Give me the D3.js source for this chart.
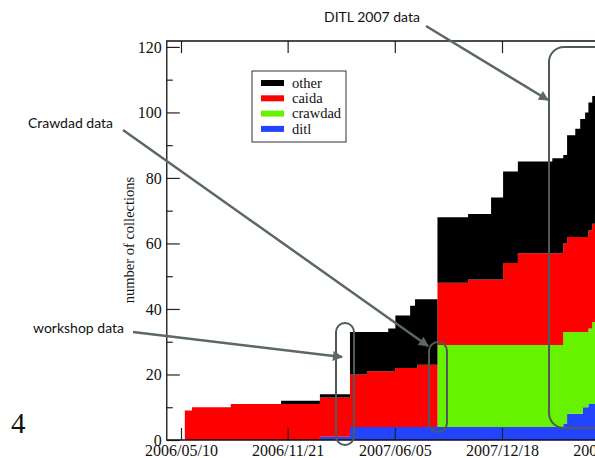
<!DOCTYPE html>
<html>
<head>
<meta charset="utf-8">
<script src="https://cdn.jsdelivr.net/npm/d3@7"></script>
<style>
  body { margin: 0; background: #fff; }
  svg { display: block; overflow: hidden; }
  .serif { font-family: "Liberation Serif", "Times New Roman", serif; }
  .note { font-family: Lato, "Open Sans", sans-serif; font-size: 14px; fill: #111; }
</style>
</head>
<body>
<svg id="chart" width="595" height="458"></svg>
<script>
// step dates (value holds until the next date)
var dates = ["2006-05-17","2006-05-30","2006-08-09","2006-11-09","2007-01-19","2007-03-15",
             "2007-04-15","2007-05-24","2007-06-06","2007-07-03","2007-07-12","2007-07-16",
             "2007-08-22","2007-10-17","2007-11-28","2007-12-20","2008-01-16","2008-03-19",
             "2008-04-08","2008-04-15","2008-04-30","2008-05-09","2008-05-14","2008-05-18",
             "2008-05-24","2008-05-31","2008-06-05","2008-06-25"];
var ditl    = [0,0,0,0,1,4,4,4,4,4,4,4,4,4,4,4,4,4,5,8,8,8,10,10,11,11,12,12];
var crawdad = [0,0,0,0,0,0,0,0,0,0,0,0,25,25,25,25,25,25,28,25,25,25,23,23,23,25,25,25];
var caida   = [9,10,11,11,12,16,17,17,18,18,18,19,19,20,20,25,28,28,27,29,29,29,29,29,30,30,32,32];
var other   = [0,0,0,1,1,13,12,13,16,19,21,20,20,20,25,28,28,29,27,31,33,36,36,38,39,39,38,38];

var seriesKeys   = ["ditl", "crawdad", "caida", "other"];
var seriesColors = {other: "#000000", caida: "#ff0000", crawdad: "#66f200", ditl: "#2244ff"};
var legendOrder  = ["other", "caida", "crawdad", "ditl"];

var xTickDates  = ["2006-05-10","2006-11-21","2007-06-05","2007-12-18","2008-07-01"];
var yTicks      = [0, 20, 40, 60, 80, 100, 120];
var yMinorTicks = [10, 30, 50, 70, 90, 110];

var parse = d3.utcParse("%Y-%m-%d"),
    fmt = d3.utcFormat("%Y/%m/%d");

var table = dates.map(function(d, i) {
  return {date: parse(d), ditl: ditl[i], crawdad: crawdad[i], caida: caida[i], other: other[i]};
});

var svg = d3.select("#chart");

var x = d3.scaleUtc()
    .domain([parse("2006-05-10"), parse("2007-12-18")])
    .range([181, 502]);
var y = d3.scaleLinear().domain([0, 121.8]).range([440, 41]);

var plotLeft = x(parse("2006-04-14")),
    plotRight = x(parse("2008-10-01")),
    plotTop = y(121.8),
    plotBottom = y(0);

var defs = svg.append("defs");
defs.append("clipPath").attr("id", "plot")
  .append("rect").attr("x", plotLeft).attr("y", plotTop)
  .attr("width", plotRight - plotLeft).attr("height", plotBottom - plotTop);

var stacked = d3.stack().keys(seriesKeys)(table);

var area = d3.area()
    .curve(d3.curveStepAfter)
    .x(function(d) { return x(d.data.date); })
    .y0(function(d) { return y(d[0]); })
    .y1(function(d) { return y(d[1]); });

svg.append("g").attr("clip-path", "url(#plot)")
  .selectAll("path").data(stacked).enter().append("path")
    .attr("fill", function(s) { return seriesColors[s.key]; })
    .attr("d", area);

// axes, ticks pointing inward
var xTicks = xTickDates.map(parse);

var gb = svg.append("g").attr("class", "serif")
    .attr("transform", "translate(0," + plotBottom + ")")
    .call(d3.axisBottom(x).tickValues(xTicks).tickFormat(fmt)
      .tickSizeInner(-12).tickSizeOuter(0).tickPadding(5));
gb.select(".domain").remove();
gb.selectAll("text").attr("font-size", 16).attr("fill", "#111");

var gt = svg.append("g")
    .attr("transform", "translate(0," + plotTop + ")")
    .call(d3.axisTop(x).tickValues(xTicks).tickFormat("")
      .tickSizeInner(-12).tickSizeOuter(0));
gt.select(".domain").remove();

var gl = svg.append("g").attr("class", "serif")
    .attr("transform", "translate(" + plotLeft + ",0)")
    .call(d3.axisLeft(y).tickValues(yTicks)
      .tickSizeInner(-13).tickSizeOuter(0).tickPadding(5));
gl.select(".domain").remove();
gl.selectAll("text").attr("font-size", 16).attr("fill", "#111");

var gm = svg.append("g")
    .attr("transform", "translate(" + plotLeft + ",0)")
    .call(d3.axisLeft(y).tickValues(yMinorTicks).tickFormat("")
      .tickSizeInner(-6).tickSizeOuter(0));
gm.select(".domain").remove();

svg.selectAll(".tick line").attr("stroke", "#222").attr("stroke-width", 1.2);

// frame
svg.append("path")
    .attr("d", "M" + plotRight + "," + plotTop + "H" + plotLeft + "V" + plotBottom + "H" + plotRight)
    .attr("fill", "none").attr("stroke", "#111").attr("stroke-width", 1.3);

svg.append("text").attr("class", "serif")
    .attr("transform", "translate(134,240) rotate(-90)")
    .attr("text-anchor", "middle").attr("font-size", 14.5).attr("fill", "#111")
    .text("number of collections");

// legend
var lg = svg.append("g").attr("class", "serif").attr("transform", "translate(252,71)");
lg.append("rect").attr("width", 94).attr("height", 71)
    .attr("fill", "#fff").attr("stroke", "#333").attr("stroke-width", 1);
var items = lg.selectAll("g.item").data(legendOrder).enter().append("g")
    .attr("transform", function(d, i) { return "translate(0," + (12 + i * 15.3) + ")"; });
items.append("rect").attr("x", 9).attr("y", -3).attr("width", 23).attr("height", 6)
    .attr("fill", function(d) { return seriesColors[d]; });
items.append("text").attr("x", 40).attr("dy", "0.32em")
    .attr("font-size", 14.5).attr("fill", "#111").text(function(d) { return d; });

// page number
svg.append("text").attr("class", "serif").attr("x", 11).attr("y", 433)
    .attr("font-size", 29).attr("fill", "#111").text("4");

// annotations
var noteColor = "#5c6767";
defs.append("marker")
    .attr("id", "arrow").attr("viewBox", "0 0 10 10")
    .attr("refX", 9).attr("refY", 5)
    .attr("markerWidth", 4.5).attr("markerHeight", 4)
    .attr("markerUnits", "strokeWidth").attr("orient", "auto")
  .append("path").attr("d", "M0,0L10,5L0,10z").attr("fill", noteColor);

var bubbles = [
  {x: 336, y: 323, w: 18, h: 122, r: 9},
  {x: 429, y: 342, w: 18, h: 90, r: 9},
  {x: 549, y: 47, w: 120, h: 381, r: 15}
];
svg.selectAll("rect.bubble").data(bubbles).enter().append("rect")
    .attr("class", "bubble")
    .attr("x", function(d) { return d.x; }).attr("y", function(d) { return d.y; })
    .attr("width", function(d) { return d.w; }).attr("height", function(d) { return d.h; })
    .attr("rx", function(d) { return d.r; })
    .attr("fill", "none").attr("stroke", "#4e5959").attr("stroke-width", 2);

var notes = [
  {text: "DITL 2007 data", tx: 324, ty: 22, x1: 426, y1: 26, x2: 548, y2: 100},
  {text: "Crawdad data", tx: 28, ty: 128, x1: 123, y1: 130, x2: 428, y2: 346},
  {text: "workshop data", tx: 33, ty: 333, x1: 133, y1: 332, x2: 342, y2: 357}
];
svg.selectAll("line.note").data(notes).enter().append("line")
    .attr("x1", function(d) { return d.x1; }).attr("y1", function(d) { return d.y1; })
    .attr("x2", function(d) { return d.x2; }).attr("y2", function(d) { return d.y2; })
    .attr("stroke", noteColor).attr("stroke-width", 2.5)
    .attr("marker-end", "url(#arrow)");
svg.selectAll("text.note").data(notes).enter().append("text")
    .attr("class", "note")
    .attr("x", function(d) { return d.tx; }).attr("y", function(d) { return d.ty; })
    .text(function(d) { return d.text; });
</script>
</body>
</html>
